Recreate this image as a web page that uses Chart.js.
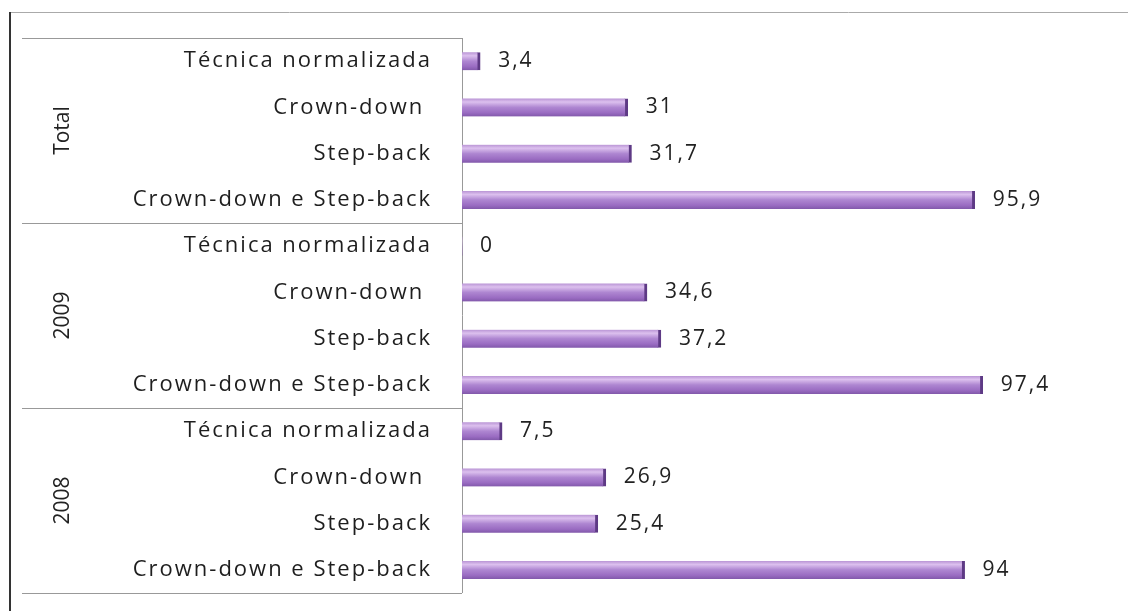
<!DOCTYPE html>
<html>
<head>
<meta charset="utf-8">
<script src="https://cdn.jsdelivr.net/npm/chart.js@4"></script>
<style>
  html, body { margin: 0; padding: 0; background: #fff; overflow: hidden; }
  #wrap { width: 1130px; height: 611px; position: relative; }
</style>
</head>
<body>
<div id="wrap"><canvas id="techChart"></canvas></div>
<script>
// grupos (de cima para baixo) e técnicas dentro de cada grupo
const groups = ['Total', '2009', '2008'];
const techniques = ['Técnica normalizada', 'Crown-down ', 'Step-back', 'Crown-down e Step-back'];

// percentagens por grupo, na ordem das técnicas
const totalValues = [3.4, 31, 31.7, 95.9];
const values2009 = [0, 34.6, 37.2, 97.4];
const values2008 = [7.5, 26.9, 25.4, 94];

const labels = [];
const values = [];
[totalValues, values2009, values2008].forEach(function(arr) {
    techniques.forEach(function(t, i) {
        labels.push(t);
        values.push(arr[i]);
    });
});

const fontFamily = "'Open Sans', 'Noto Sans', sans-serif";

// espaçamento largo das letras, como no original
const wideText = {
    id: 'wideText',
    beforeDraw(chart) { chart.ctx.letterSpacing = '2px'; },
    afterDraw(chart) { chart.ctx.letterSpacing = '0px'; }
};

// desenha os números no fim de cada barra
const valueLabels = {
    id: 'valueLabels',
    afterDatasetsDraw(chart) {
        const ctx = chart.ctx;
        const meta = chart.getDatasetMeta(0);
        ctx.save();
        ctx.letterSpacing = '2px';
        ctx.font = '21px ' + fontFamily;
        ctx.fillStyle = '#222';
        ctx.textBaseline = 'middle';
        ctx.textAlign = 'left';
        meta.data.forEach(function(bar, i) {
            const txt = String(values[i]).replace('.', ',');
            ctx.fillText(txt, bar.x + 18, bar.y);
        });
        ctx.restore();
    }
};

// linhas de separação dos grupos, moldura e nomes dos grupos
const groupFrame = {
    id: 'groupFrame',
    beforeDatasetsDraw(chart) {
        const ctx = chart.ctx;
        const area = chart.chartArea;
        const y = chart.scales.y;
        const step = y.getPixelForValue(1) - y.getPixelForValue(0);
        ctx.save();
        // moldura exterior
        ctx.strokeStyle = '#aaa';
        ctx.lineWidth = 1;
        ctx.beginPath();
        ctx.moveTo(10, 12.5);
        ctx.lineTo(1128, 12.5);
        ctx.stroke();
        ctx.strokeStyle = '#333';
        ctx.lineWidth = 2;
        ctx.beginPath();
        ctx.moveTo(10, 12);
        ctx.lineTo(10, 611);
        ctx.stroke();
        // eixo vertical
        ctx.strokeStyle = '#999';
        ctx.lineWidth = 1;
        ctx.beginPath();
        ctx.moveTo(area.left + 0.5, area.top);
        ctx.lineTo(area.left + 0.5, area.bottom);
        ctx.stroke();
        // separadores
        for (let g = 0; g <= groups.length; g++) {
            const yy = Math.round(y.getPixelForValue(g * techniques.length) - step / 2) + 0.5;
            ctx.beginPath();
            ctx.moveTo(22, yy);
            ctx.lineTo(area.left, yy);
            ctx.stroke();
        }
        // nomes dos grupos (rodados)
        ctx.letterSpacing = '0px';
        ctx.font = '21px ' + fontFamily;
        ctx.fillStyle = '#222';
        ctx.textAlign = 'center';
        ctx.textBaseline = 'middle';
        groups.forEach(function(name, g) {
            const first = y.getPixelForValue(g * techniques.length);
            const last = y.getPixelForValue(g * techniques.length + techniques.length - 1);
            ctx.save();
            ctx.translate(63, (first + last) / 2);
            ctx.rotate(-Math.PI / 2);
            ctx.fillText(name, 0, 0);
            ctx.restore();
        });
        ctx.restore();
    }
};

function barGradient(context) {
    const chart = context.chart;
    const yScale = chart.scales.y;
    if (!chart.chartArea || !yScale || context.dataIndex === undefined) return '#a57ccb';
    const cy = yScale.getPixelForValue(context.dataIndex);
    if (!isFinite(cy)) return '#a57ccb';
    const h = 18;
    const g = chart.ctx.createLinearGradient(0, cy - h / 2, 0, cy + h / 2);
    g.addColorStop(0, '#b893d4');
    g.addColorStop(0.2, '#dcc0ee');
    g.addColorStop(0.5, '#ae86d1');
    g.addColorStop(0.8, '#9a6cc2');
    g.addColorStop(1, '#8259ab');
    return g;
}

const ctx = document.getElementById('techChart').getContext('2d');
const techChart = new Chart(ctx, {
    type: 'bar',
    data: {
        labels: labels,
        datasets: [{
            data: values,
            backgroundColor: barGradient,
            borderColor: '#5e3a85',
            borderWidth: { right: 3, top: 0, bottom: 0, left: 0 },
            borderSkipped: false,
            barThickness: 18
        }]
    },
    options: {
        indexAxis: 'y',
        responsive: true,
        maintainAspectRatio: false,
        animation: false,
        layout: { padding: { top: 38, bottom: 18, right: 5, left: 0 } },
        scales: {
            x: {
                display: false,
                min: 0,
                max: 124
            },
            y: {
                grid: { display: false, drawTicks: false },
                border: { display: false },
                ticks: {
                    padding: 30,
                    color: '#1e1e1e',
                    font: { family: fontFamily, size: 22 }
                },
                afterFit(scale) {
                    scale.width = 462;
                    scale.paddingTop = 0;
                    scale.paddingBottom = 0;
                }
            }
        },
        plugins: {
            legend: { display: false },
            tooltip: { enabled: false }
        }
    },
    plugins: [wideText, groupFrame, valueLabels]
});
</script>
</body>
</html>
